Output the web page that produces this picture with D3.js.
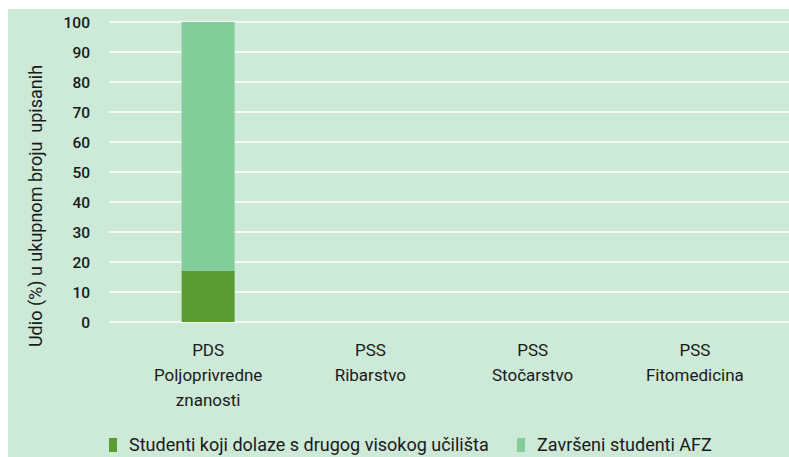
<!DOCTYPE html>
<html><head><meta charset="utf-8">
<script src="https://cdn.jsdelivr.net/npm/d3@7"></script>
<style>
html,body{margin:0;padding:0;background:#fff;}
svg{display:block;}
text{font-family:Roboto,"Noto Sans",sans-serif;fill:#1a1a1a;}
</style></head>
<body>
<svg id="chart" width="789" height="457"></svg>
<script>
const categories = [["PDS","Poljoprivredne","znanosti"],["PSS","Ribarstvo"],["PSS","Stočarstvo"],["PSS","Fitomedicina"]];
const seriesNames = ["Studenti koji dolaze s drugog visokog učilišta","Završeni studenti AFZ"];
const drugoUciliste = [17, 0, 0, 0];
const zavrseniAFZ = [83, 0, 0, 0];
const yTicks = [0,10,20,30,40,50,60,70,80,90,100];
const yTitle = "Udio (%) u ukupnom broju  upisanih";
const colors = ["#5a9c32", "#82cd9a"];

const svg = d3.select("#chart");
svg.append("rect").attr("x",8).attr("y",9).attr("width",781).attr("height",448).attr("fill","#cde9d7");

const keys = categories.map((c,i)=>"c"+i);
const x = d3.scaleBand().domain(keys).range([127,776]).padding(0);
const y = d3.scaleLinear().domain([0,100]).range([322,22]);
const barW = 53;

svg.append("g").selectAll("line").data(yTicks).join("line")
  .attr("x1",109).attr("x2",789)
  .attr("y1",d=>y(d)).attr("y2",d=>y(d))
  .attr("stroke","#ffffff").attr("stroke-width",1.6);

svg.append("g").selectAll("text").data(yTicks).join("text")
  .attr("x",90).attr("y",d=>y(d)).attr("dy","0.36em")
  .attr("text-anchor","end").style("font-size","15.5px").style("font-weight","500")
  .text(d=>d);

const rows = keys.map((k,i)=>({key:k, s0:drugoUciliste[i], s1:zavrseniAFZ[i]}));
const stack = d3.stack().keys(["s0","s1"])(rows);
svg.append("g").selectAll("g").data(stack).join("g")
  .attr("fill",(d,i)=>colors[i])
  .selectAll("rect").data(d=>d.filter(p=>p[1]-p[0]>0)).join("rect")
  .attr("x",d=>x(d.data.key)+x.bandwidth()/2-barW/2)
  .attr("width",barW)
  .attr("y",d=>y(d[1]))
  .attr("height",d=>y(d[0])-y(d[1]));

const cg = svg.append("g");
categories.forEach((lines,i)=>{
  const t = cg.append("text").attr("text-anchor","middle").style("font-size","17px");
  lines.forEach((ln,j)=>{
    t.append("tspan").attr("x",x(keys[i])+x.bandwidth()/2).attr("y",356+j*25).text(ln);
  });
});

svg.append("text").attr("transform","translate(42,206) rotate(-90)")
  .attr("text-anchor","middle").style("font-size","18px").style("white-space","pre")
  .attr("xml:space","preserve").text(yTitle);

const legendX = [109, 517];
const lg = svg.append("g");
seriesNames.forEach((n,i)=>{
  lg.append("rect").attr("x",legendX[i]).attr("y",438).attr("width",8).attr("height",14).attr("fill",colors[i]);
  lg.append("text").attr("x",legendX[i]+20).attr("y",451).style("font-size","18px").text(n);
});
</script>
</body></html>
